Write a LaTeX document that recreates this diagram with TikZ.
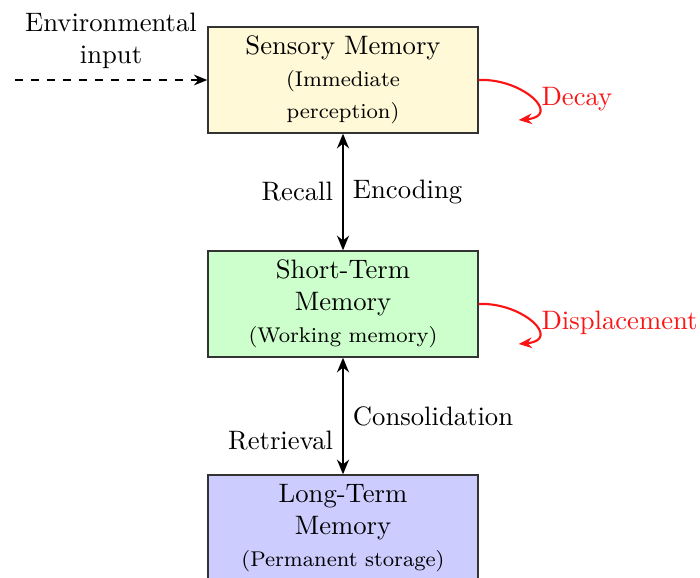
\documentclass[tikz,border=0pt]{standalone}
\usetikzlibrary{arrows.meta}
\definecolor{sensfill}{RGB}{255,249,215}
\definecolor{stmfill}{RGB}{204,255,204}
\definecolor{ltmfill}{RGB}{204,204,255}
\definecolor{lossred}{RGB}{250,20,20}
\tikzset{
  membox/.style={draw=black!80, line width=0.5pt, minimum width=101.25pt,
    minimum height=39.75pt, align=center, inner sep=0pt},
  flow/.style={thick, {Stealth[length=5.5pt,width=4.5pt]}-{Stealth[length=5.5pt,width=4.5pt]}},
  inflow/.style={thick, dashed, -{Stealth[length=5pt,width=4pt]}},
  loss/.style={thick, lossred, -{Stealth[length=5pt,width=4pt]}},
  losslabel/.style={text=lossred, anchor=west, inner sep=0pt},
}
\begin{document}
\begin{tikzpicture}[x=0.375pt, y=-0.375pt]
\useasboundingbox (0,0) rectangle (700,578);
\clip (0,0) rectangle (700,578);

% memory stores
\node[membox, fill=sensfill] (sens) at (343,80)
  {Sensory Memory\\{\footnotesize (Immediate}\\{\footnotesize perception)}};
\node[membox, fill=stmfill] (stm) at (343,304)
  {Short-Term\\Memory\\{\footnotesize (Working memory)}};
\node[membox, fill=ltmfill] (ltm) at (343,528)
  {Long-Term\\Memory\\{\footnotesize (Permanent storage)}};

% environmental input
\node[align=center] (env) at (111,41) {Environmental\\input};
\coordinate (envstart) at (15,80);
\draw[inflow] (envstart) -- (sens.west);

% transfers between stores
\draw[flow] (sens) -- (stm)
  node[pos=0.5, left] {Recall}
  node[pos=0.5, right] {Encoding};
\draw[flow] (stm) -- (ltm)
  node[pos=0.5, right] {Consolidation}
  node[pos=0.71, left] {Retrieval};

% forgetting
\coordinate (decayend) at ([shift={(40,40)}]sens.east);
\draw[loss] (sens.east) .. controls +(44,-2) and +(44,-4) .. (decayend);
\node[losslabel] (decay) at (541,99) {Decay};

\coordinate (dispend) at ([shift={(40,40)}]stm.east);
\draw[loss] (stm.east) .. controls +(44,-2) and +(44,-4) .. (dispend);
\node[losslabel] (disp) at (541,323) {Displacement};
\end{tikzpicture}
\end{document}
